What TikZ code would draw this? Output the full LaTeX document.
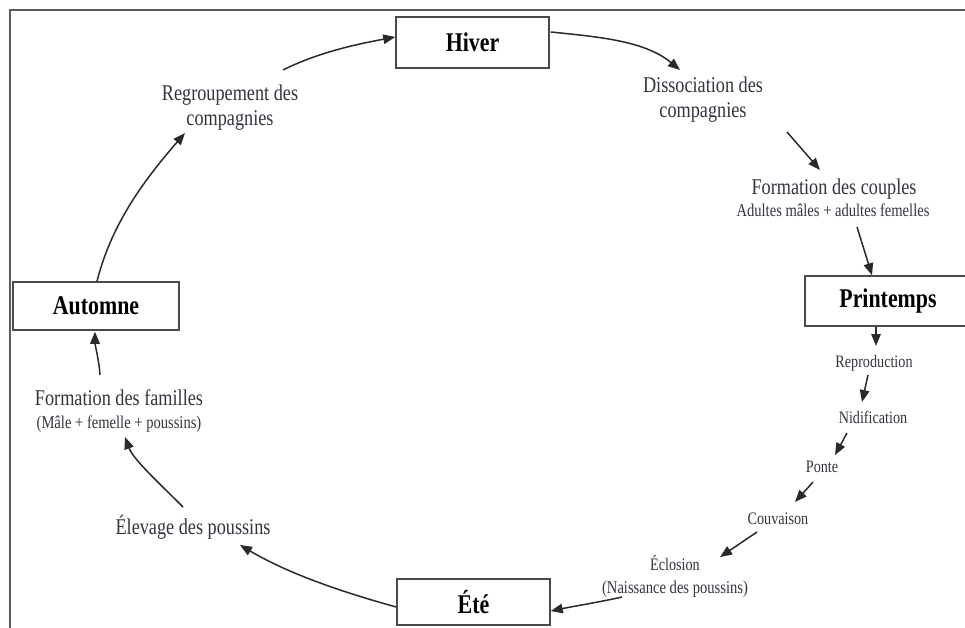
\documentclass[tikz,border=0pt]{standalone}
\usepackage{fontspec}
\setmainfont{Liberation Serif}[FakeStretch=0.81]
\usetikzlibrary{arrows.meta}
\definecolor{txt}{HTML}{34343E}
\definecolor{ln}{HTML}{2A2A2A}
\definecolor{bx}{HTML}{4A4A4A}
\newcommand\mylarge{\fontsize{22.5}{25}\selectfont}
\newcommand\mysmall{\fontsize{18}{21}\selectfont}
\newcommand\mytiny{\fontsize{17.5}{20}\selectfont}
\newcommand\mybold{\fontsize{27}{30}\selectfont\bfseries}
\begin{document}
\begin{tikzpicture}[x=1pt,y=-1pt,
  season/.style={draw=bx,line width=1.5pt,fill=white,inner sep=0pt,font=\mybold,text=black},
  lbl/.style={inner sep=0pt,text=txt,font=\mylarge,align=center},
  sub/.style={inner sep=0pt,text=txt,font=\mysmall,anchor=base},
  stage/.style={inner sep=0pt,text=txt,font=\mytiny,anchor=base},
  arr/.style={draw=ln,line width=1.5pt,-{Triangle[length=12pt,width=9.5pt]}}]
\clip (0,0) rectangle (965,628);
\fill[white] (0,0) rectangle (965,628);
% frame
\draw[draw=bx!90,line width=1.3pt] (10,640) -- (10,10) -- (975,10);
% season boxes
\node[season,minimum width=153,minimum height=51] (hiver) at (472.5,42.5) {Hiver};
\node[season,minimum width=166,minimum height=48] (automne) at (96,306) {Automne};
\node[season,minimum width=166,minimum height=50] (printemps) at (888,301) {Printemps};
\node[season,minimum width=153,minimum height=46] (ete) at (473.5,602) {Été};
% labels
\node[lbl] (regroup) at (230,107.5) {Regroupement des\\compagnies};
\node[lbl] (dissoc) at (703,99.5) {Dissociation des\\compagnies};
\node[lbl,anchor=base] (couples) at (834,195) {Formation des couples};
\node[sub] (couplesb) at (833,217) {Adultes mâles + adultes femelles};
\node[stage] (repro) at (874,367) {Reproduction};
\node[stage] (nidif) at (873,423) {Nidification};
\node[stage] (ponte) at (822,472) {Ponte};
\node[stage] (couv) at (778,524) {Couvaison};
\node[stage] (eclos) at (675,570) {Éclosion};
\node[sub] (eclosb) at (675,593) {(Naissance des poussins)};
\node[lbl,anchor=base] (elevage) at (193,534) {Élevage des poussins};
\node[lbl,anchor=base] (familles) at (119,405) {Formation des familles};
\node[sub] (famillesb) at (119,428) {(Mâle + femelle + poussins)};
% connectors
\draw[arr] ([shift={(1,0)}]automne.north) .. controls (112,222) and (146,178) .. ([shift={(-45,25.5)}]regroup.center);
\draw[arr] ([shift={(53,-37.5)}]regroup.center) .. controls (319,52) and (358,44) .. ([shift={(0,-5.5)}]hiver.west);
\draw[arr] ([shift={(1,-10.5)}]hiver.east) .. controls (600,37) and (645,41) .. ([shift={(-23,-29.5)}]dissoc.center);
\draw[arr] ([shift={(84,32.5)}]dissoc.center) -- ([shift={(-14,-25)}]couples.base);
\draw[arr] ([shift={(24,10)}]couplesb.base) -- ([shift={(-16,0)}]printemps.north);
\draw[arr] ([shift={(-12,0)}]printemps.south) -- ([shift={(2,-21)}]repro.base);
\draw[arr] ([shift={(-6,8)}]repro.base) -- ([shift={(-11,-21)}]nidif.base);
\draw[arr] ([shift={(-26,10)}]nidif.base) -- ([shift={(13,-17)}]ponte.base);
\draw[arr] ([shift={(-9,10)}]ponte.base) -- ([shift={(17,-22)}]couv.base);
\draw[arr] ([shift={(-21,8)}]couv.base) -- ([shift={(45,-13)}]eclos.base);
\draw[arr] ([shift={(-53,4)}]eclosb.base) .. controls (600,602) and (575,606) .. ([shift={(0,9)}]ete.east);
\draw[arr] ([shift={(0,5)}]ete.west) .. controls (342,592) and (289,574) .. ([shift={(47,11)}]elevage.base);
\draw[arr] ([shift={(-10,-27)}]elevage.base) .. controls (158,482) and (133,459) .. ([shift={(6,9)}]famillesb.base);
\draw[arr] ([shift={(-19,-30)}]familles.base) .. controls (99,360) and (95,345) .. ([shift={(-1,1)}]automne.south);
\end{tikzpicture}
\end{document}
